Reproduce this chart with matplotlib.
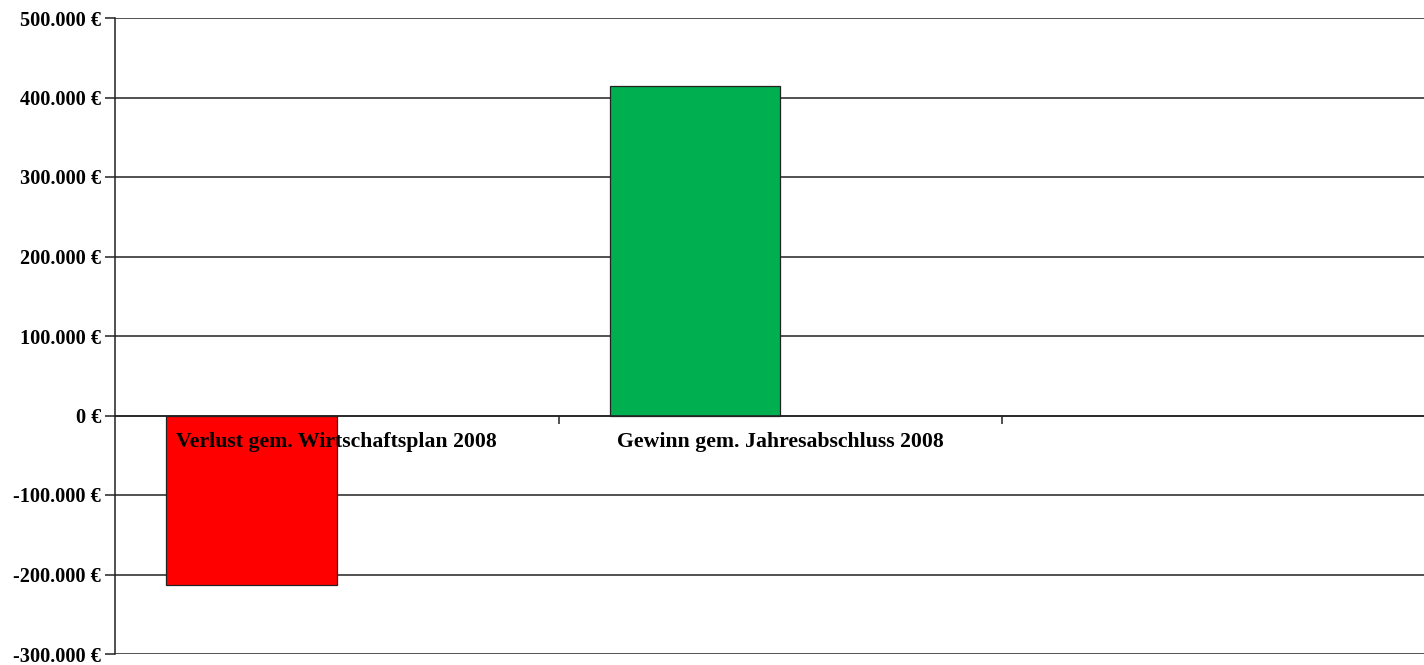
import matplotlib.pyplot as plt
from matplotlib.ticker import FuncFormatter, MultipleLocator

categories = ['Verlust gem. Wirtschaftsplan 2008', 'Gewinn gem. Jahresabschluss 2008', '']
values = [-213000, 414000]
colors = ['#FF0000', '#00B050']

plt.rcParams['font.family'] = ['Liberation Serif', 'DejaVu Serif']

fig = plt.figure(figsize=(14.24, 6.65), dpi=100)
ax = fig.add_axes([115 / 1424, 11 / 665, 1330.5 / 1424, 636 / 665])

bar_w = 0.384
xs = [i - bar_w / 2 for i in range(len(values))]
ax.bar(xs, values, width=bar_w, color=colors, edgecolor='#222222', linewidth=0.9, zorder=2)

ax.set_xlim(-0.5, len(categories) - 0.5)
ax.set_ylim(-300000, 500000)
ax.yaxis.set_major_locator(MultipleLocator(100000))
ax.yaxis.set_major_formatter(FuncFormatter(lambda v, p: f'{v:,.0f}'.replace(',', '.') + ' €'))
ax.grid(axis='y', color='#222222', linewidth=1.1, zorder=0)
ax.set_axisbelow(True)

for s in ['top', 'right']:
    ax.spines[s].set_visible(False)
ax.spines['bottom'].set_position(('data', 0))
ax.spines['bottom'].set_color('#222222')
ax.spines['bottom'].set_linewidth(1.1)
ax.spines['left'].set_color('#222222')
ax.spines['left'].set_linewidth(1.1)

ax.set_xticks([i + 0.5 for i in range(len(categories) - 1)])
ax.set_xticklabels([])
ax.tick_params(axis='x', direction='out', length=6, width=1.1, color='#222222')
ax.tick_params(axis='y', direction='out', length=7, width=1.1, color='#222222',
               labelsize=14.6, pad=3)
for lab in ax.get_yticklabels():
    lab.set_fontweight('bold')

for i, name in enumerate(categories):
    if name:
        ax.annotate(name, (i, 0), xytext=(0, -19), textcoords='offset points',
                    ha='center', va='center', fontsize=15.7, fontweight='bold', zorder=5)

fig.savefig('out.png', dpi=100)
